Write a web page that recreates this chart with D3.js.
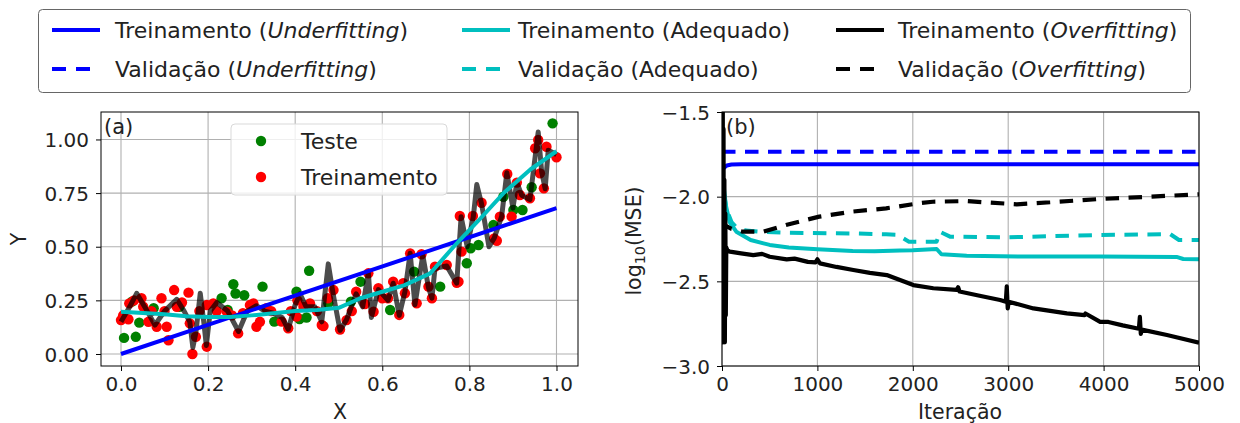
<!DOCTYPE html>
<html>
<head>
<meta charset="utf-8">
<script src="https://cdn.jsdelivr.net/npm/d3@7"></script>
<style>
body { margin: 0; background: #fff; }
svg { display: block; font-family: "DejaVu Sans", sans-serif; }
</style>
</head>
<body>
<svg id="fig" width="1240" height="423"></svg>
<script>
// ---- panel (a): samples and fitted curves ----
var testPts = [[0.007,0.075],[0.025,0.244],[0.034,0.08],[0.042,0.146],[0.075,0.213],[0.134,0.22],
  [0.231,0.26],[0.245,0.205],[0.258,0.325],[0.263,0.282],[0.283,0.274],[0.325,0.314],[0.352,0.151],
  [0.403,0.29],[0.41,0.163],[0.426,0.17],[0.432,0.388],[0.476,0.236],[0.528,0.244],[0.55,0.337],
  [0.618,0.205],[0.673,0.384],[0.733,0.314],[0.794,0.423],[0.803,0.493],[0.821,0.508],[0.855,0.601],
  [0.878,0.733],[0.901,0.671],[0.922,0.671],[0.943,0.777],[0.991,1.075]];
var trainPts = [[0.0,0.158],[0.005,0.18],[0.017,0.162],[0.019,0.236],[0.03,0.25],[0.047,0.26],
  [0.051,0.22],[0.063,0.15],[0.07,0.2],[0.082,0.127],[0.093,0.26],[0.1,0.2],[0.105,0.127],[0.109,0.064],
  [0.122,0.298],[0.128,0.22],[0.14,0.24],[0.155,0.286],[0.158,0.143],[0.164,0.0],[0.172,0.08],
  [0.18,0.2],[0.197,0.034],[0.197,0.228],[0.212,0.236],[0.22,0.2],[0.243,0.197],[0.255,0.18],
  [0.269,0.096],[0.28,0.19],[0.296,0.228],[0.304,0.236],[0.311,0.127],[0.319,0.15],[0.334,0.213],
  [0.345,0.2],[0.369,0.151],[0.384,0.12],[0.39,0.2],[0.403,0.174],[0.405,0.25],[0.419,0.22],
  [0.434,0.236],[0.45,0.2],[0.461,0.135],[0.465,0.13],[0.475,0.26],[0.488,0.298],[0.503,0.114],
  [0.518,0.158],[0.53,0.2],[0.54,0.29],[0.56,0.233],[0.568,0.376],[0.58,0.197],[0.591,0.307],
  [0.6,0.26],[0.613,0.26],[0.625,0.337],[0.639,0.182],[0.648,0.33],[0.652,0.283],[0.664,0.469],
  [0.679,0.236],[0.69,0.465],[0.706,0.314],[0.714,0.26],[0.721,0.407],[0.748,0.415],[0.771,0.332],
  [0.775,0.337],[0.778,0.643],[0.782,0.477],[0.808,0.643],[0.828,0.705],[0.857,0.539],[0.863,0.528],
  [0.87,0.64],[0.887,0.839],[0.897,0.64],[0.909,0.799],[0.916,0.741],[0.939,0.726],[0.951,0.959],
  [0.958,0.998],[0.962,0.842],[0.971,0.772],[0.977,0.966],[1.0,0.917]];
var underFitA = [[0,0.0],[1.0,0.68]];
var adeqFitA = [[0,0.197],[0.1,0.185],[0.15,0.176],[0.2,0.172],[0.25,0.172],[0.3,0.18],[0.35,0.19],
  [0.4,0.2],[0.45,0.205],[0.5,0.215],[0.55,0.26],[0.6,0.29],[0.65,0.32],[0.71,0.376],[0.771,0.516],
  [0.82,0.62],[0.878,0.749],[0.94,0.86],[1.0,0.945]];
var overFitA = [[0.0,0.15],[0.02,0.22],[0.036,0.283],[0.06,0.2],[0.078,0.135],[0.1,0.2],[0.128,0.255],
  [0.145,0.2],[0.158,0.15],[0.165,0.03],[0.172,0.1],[0.182,0.283],[0.19,0.15],[0.196,0.04],[0.205,0.2],
  [0.22,0.24],[0.245,0.2],[0.27,0.105],[0.29,0.2],[0.311,0.225],[0.33,0.2],[0.35,0.19],[0.37,0.17],
  [0.384,0.115],[0.4,0.23],[0.411,0.28],[0.425,0.22],[0.445,0.22],[0.461,0.15],[0.476,0.42],
  [0.488,0.27],[0.503,0.11],[0.518,0.16],[0.54,0.28],[0.555,0.22],[0.568,0.38],[0.575,0.17],
  [0.591,0.3],[0.613,0.25],[0.625,0.33],[0.639,0.18],[0.652,0.29],[0.664,0.47],[0.675,0.23],
  [0.693,0.46],[0.706,0.31],[0.714,0.26],[0.721,0.4],[0.748,0.41],[0.771,0.33],[0.781,0.64],
  [0.795,0.5],[0.809,0.64],[0.817,0.79],[0.828,0.7],[0.845,0.5],[0.857,0.54],[0.874,0.64],
  [0.886,0.845],[0.9,0.68],[0.909,0.8],[0.92,0.74],[0.939,0.72],[0.958,1.035],[0.966,0.85],
  [0.974,0.77],[0.981,0.95],[1.0,0.93]];

// ---- panel (b): log10(MSE) per iteration ----
var underTrainB = [[0,-1.84],[20,-1.83],[50,-1.816],[100,-1.81],[200,-1.809],[5000,-1.809]];
var underValB = [[0,-1.735],[5000,-1.735]];
var adeqTrainB = [[0,-2.3],[5,-1.9],[20,-1.95],[40,-2.05],[80,-2.15],[150,-2.207],[300,-2.256],
  [500,-2.285],[700,-2.3],[1000,-2.311],[1370,-2.321],[1600,-2.322],[1865,-2.318],[2000,-2.317],
  [2250,-2.309],[2300,-2.34],[2565,-2.349],[3265,-2.354],[3960,-2.354],[4765,-2.356],[4835,-2.368],
  [5000,-2.37]];
var adeqValB = [[0,-2.0],[5,-1.92],[20,-1.98],[50,-2.08],[100,-2.15],[150,-2.18],[250,-2.2],
  [400,-2.207],[670,-2.213],[1370,-2.217],[1720,-2.222],[1850,-2.225],[1900,-2.246],[1960,-2.266],
  [2250,-2.266],[2285,-2.207],[2390,-2.236],[3000,-2.24],[3960,-2.226],[4700,-2.222],[4790,-2.256],
  [5000,-2.256]];
var overTrainB = [[0,-1.3],[4,-2.86],[8,-1.4],[12,-2.86],[16,-1.6],[20,-2.8],[25,-1.9],[30,-2.86],
  [35,-2.1],[40,-2.7],[45,-2.3],[55,-2.315],[83,-2.325],[200,-2.335],[328,-2.345],[420,-2.338],
  [500,-2.355],[678,-2.37],[760,-2.366],[900,-2.385],[980,-2.388],[1000,-2.37],[1027,-2.394],
  [1200,-2.415],[1377,-2.433],[1550,-2.45],[1727,-2.463],[1866,-2.492],[2005,-2.522],[2215,-2.541],
  [2460,-2.55],[2475,-2.535],[2490,-2.56],[2700,-2.585],[2915,-2.61],[2975,-2.62],[2985,-2.53],
  [2995,-2.66],[3005,-2.62],[3265,-2.66],[3615,-2.689],[3800,-2.7],[3810,-2.69],[3964,-2.739],
  [4050,-2.74],[4200,-2.76],[4370,-2.78],[4380,-2.71],[4390,-2.81],[4400,-2.785],[4664,-2.817],
  [5000,-2.862]];
var overValB = [[0,-2.2],[30,-2.17],[100,-2.19],[220,-2.207],[430,-2.207],[670,-2.167],[1020,-2.118],
  [1370,-2.088],[1720,-2.069],[2050,-2.04],[2210,-2.03],[2565,-2.026],[2800,-2.035],[3090,-2.045],
  [3440,-2.033],[3960,-2.014],[4490,-2.0],[5000,-1.986]];

// ---- ticks ----
var xTicksA = [0, 0.2, 0.4, 0.6, 0.8, 1.0];
var yTicksA = [0, 0.25, 0.5, 0.75, 1.0];
var xTicksB = [0, 1000, 2000, 3000, 4000, 5000];
var yTicksB = [-3.0, -2.5, -2.0, -1.5];

var FS = 20;      // ticks
var FL = 20.5;    // axis labels
var FG = 22;      // legends
var svg = d3.select("#fig");

function makePanel(id, box, xDom, yDom, xt, yt, xfmt, yfmt) {
  var x = d3.scaleLinear().domain(xDom).range([box.l, box.r]);
  var y = d3.scaleLinear().domain(yDom).range([box.b, box.t]);
  var g = svg.append("g");
  svg.append("clipPath").attr("id", id)
    .append("rect").attr("x", box.l).attr("y", box.t)
    .attr("width", box.r - box.l).attr("height", box.b - box.t);

  // grid
  g.selectAll(".gx").data(xt).enter().append("line")
    .attr("x1", function(d) { return x(d); }).attr("x2", function(d) { return x(d); })
    .attr("y1", box.t).attr("y2", box.b)
    .attr("stroke", "#b0b0b0").attr("stroke-width", 1.1);
  g.selectAll(".gy").data(yt).enter().append("line")
    .attr("y1", function(d) { return y(d); }).attr("y2", function(d) { return y(d); })
    .attr("x1", box.l).attr("x2", box.r)
    .attr("stroke", "#b0b0b0").attr("stroke-width", 1.1);

  var data = g.append("g").attr("clip-path", "url(#" + id + ")");
  return { x: x, y: y, g: g, data: data, box: box, xt: xt, yt: yt, xfmt: xfmt, yfmt: yfmt };
}

function finishPanel(p) {
  var b = p.box;
  var ax = p.g.append("g").attr("transform", "translate(0," + b.b + ")")
    .call(d3.axisBottom(p.x).tickValues(p.xt).tickFormat(d3.format(p.xfmt))
      .tickSizeInner(5).tickSizeOuter(0).tickPadding(6));
  var ay = p.g.append("g").attr("transform", "translate(" + b.l + ",0)")
    .call(d3.axisLeft(p.y).tickValues(p.yt).tickFormat(d3.format(p.yfmt))
      .tickSizeInner(5).tickSizeOuter(0).tickPadding(7));
  [ax, ay].forEach(function(a) {
    a.attr("font-family", "DejaVu Sans").attr("font-size", FS);
    a.select(".domain").remove();
    a.selectAll("line").attr("stroke", "#000").attr("stroke-width", 1);
    a.selectAll("text").attr("fill", "#222");
  });
  ay.selectAll("text").attr("dy", "0.36em");
  p.g.append("rect").attr("x", b.l).attr("y", b.t)
    .attr("width", b.r - b.l).attr("height", b.b - b.t)
    .attr("fill", "none").attr("stroke", "#000").attr("stroke-width", 1);
}

function drawLine(p, pts, color, width, dash, opacity) {
  var line = d3.line().x(function(d) { return p.x(d[0]); }).y(function(d) { return p.y(d[1]); });
  p.data.append("path").datum(pts).attr("d", line)
    .attr("fill", "none").attr("stroke", color).attr("stroke-width", width)
    .attr("stroke-linejoin", "round")
    .attr("stroke-dasharray", dash || null)
    .attr("stroke-opacity", opacity || 1);
}

// ---- panel (a) ----
var pa = makePanel("clipA", { l: 101, r: 578, t: 112, b: 366 }, [-0.0459, 1.0494], [-0.056, 1.128],
  xTicksA, yTicksA, ".1f", ".2f");
pa.data.selectAll(".te").data(testPts).enter().append("circle")
  .attr("cx", function(d) { return pa.x(d[0]); }).attr("cy", function(d) { return pa.y(d[1]); })
  .attr("r", 5.2).attr("fill", "#008000");
pa.data.selectAll(".tr").data(trainPts).enter().append("circle")
  .attr("cx", function(d) { return pa.x(d[0]); }).attr("cy", function(d) { return pa.y(d[1]); })
  .attr("r", 5.2).attr("fill", "#ff0000");
drawLine(pa, overFitA, "#000", 5, null, 0.7);
drawLine(pa, underFitA, "#0000ff", 4);
drawLine(pa, adeqFitA, "#00bfbf", 4);
finishPanel(pa);

pa.g.append("text").attr("x", 104).attr("y", 134).attr("font-size", 21).attr("fill", "#222").text("(a)");

// legend inside (a)
var legA = pa.g.append("g");
legA.append("rect").attr("x", 231).attr("y", 124).attr("width", 216).attr("height", 71)
  .attr("rx", 4).attr("fill", "#fff").attr("fill-opacity", 0.8)
  .attr("stroke", "#d9d9d9").attr("stroke-width", 1);
[["Teste", "#008000", 141], ["Treinamento", "#ff0000", 177]].forEach(function(e) {
  legA.append("circle").attr("cx", 261).attr("cy", e[2]).attr("r", 5.2).attr("fill", e[1]);
  legA.append("text").attr("x", 301).attr("y", e[2] + 8).attr("font-size", FG).attr("fill", "#222").text(e[0]);
});

svg.append("text").attr("x", 340).attr("y", 419).attr("text-anchor", "middle")
  .attr("font-size", FL).attr("fill", "#222").text("X");
svg.append("text").attr("transform", "translate(26,239) rotate(-90)").attr("text-anchor", "middle")
  .attr("font-size", FL).attr("fill", "#222").text("Y");

// ---- panel (b) ----
var pb = makePanel("clipB", { l: 722, r: 1199, t: 112, b: 366 }, [0, 5000], [-3.0, -1.5],
  xTicksB, yTicksB, "d", ".1f");
var dashB = "13.5,9.5";
drawLine(pb, underTrainB, "#0000ff", 4);
drawLine(pb, underValB, "#0000ff", 4, dashB);
drawLine(pb, adeqTrainB, "#00bfbf", 4);
drawLine(pb, adeqValB, "#00bfbf", 4, dashB);
drawLine(pb, overTrainB, "#000", 4.2);
drawLine(pb, overValB, "#000", 4.2, dashB);
finishPanel(pb);

pb.g.append("text").attr("x", 726).attr("y", 134).attr("font-size", 21).attr("fill", "#222").text("(b)");

svg.append("text").attr("x", 960).attr("y", 419).attr("text-anchor", "middle")
  .attr("font-size", FL).attr("fill", "#222").text("Iteração");
var yl = svg.append("text").attr("transform", "translate(641,241) rotate(-90)").attr("text-anchor", "middle")
  .attr("font-size", FL).attr("fill", "#222");
yl.append("tspan").text("log");
yl.append("tspan").attr("font-size", FL * 0.7).attr("dy", 4).text("10");
yl.append("tspan").attr("dy", -4).text("(MSE)");

// ---- figure legend ----
var legItems = [
  { col: 0, row: 0, color: "#0000ff", dash: null, parts: [["Treinamento (", 0], ["Underfitting", 1], [")", 0]] },
  { col: 0, row: 1, color: "#0000ff", dash: "14,10", parts: [["Validação (", 0], ["Underfitting", 1], [")", 0]] },
  { col: 1, row: 0, color: "#00bfbf", dash: null, parts: [["Treinamento (Adequado)", 0]] },
  { col: 1, row: 1, color: "#00bfbf", dash: "14,10", parts: [["Validação (Adequado)", 0]] },
  { col: 2, row: 0, color: "#000", dash: null, parts: [["Treinamento (", 0], ["Overfitting", 1], [")", 0]] },
  { col: 2, row: 1, color: "#000", dash: "14,10", parts: [["Validação (", 0], ["Overfitting", 1], [")", 0]] }
];
var colX = [52, 462, 836];
var textOff = [63, 56, 62];
var rowY = [30, 69];
var leg = svg.append("g");
leg.append("rect").attr("x", 38.5).attr("y", 9.5).attr("width", 1152).attr("height", 83)
  .attr("rx", 4).attr("fill", "#fff").attr("stroke", "#666").attr("stroke-width", 1);
legItems.forEach(function(it) {
  var x0 = colX[it.col], yy = rowY[it.row];
  leg.append("line").attr("x1", x0).attr("x2", x0 + 48).attr("y1", yy).attr("y2", yy)
    .attr("stroke", it.color).attr("stroke-width", 4).attr("stroke-dasharray", it.dash);
  var t = leg.append("text").attr("x", x0 + textOff[it.col]).attr("y", yy + 8).attr("font-size", FG).attr("fill", "#222");
  it.parts.forEach(function(p) {
    t.append("tspan").attr("font-style", p[1] ? "italic" : "normal").text(p[0]);
  });
});
</script>
</body>
</html>
